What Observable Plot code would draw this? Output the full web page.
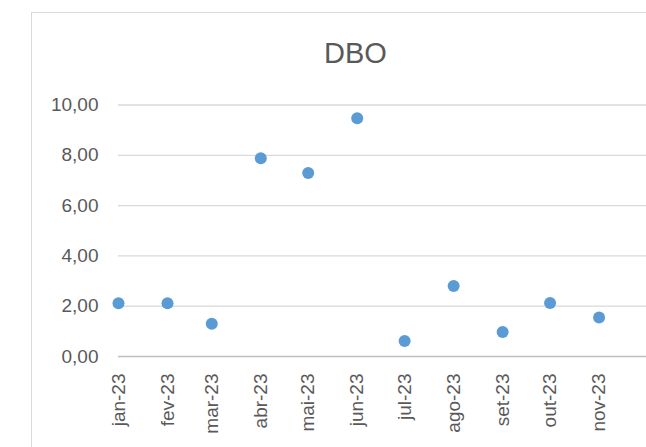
<!DOCTYPE html>
<html>
<head>
<meta charset="utf-8">
<script src="https://cdn.jsdelivr.net/npm/d3@7"></script>
<script src="https://cdn.jsdelivr.net/npm/@observablehq/plot@0.6"></script>
<style>
  html, body { margin: 0; padding: 0; background: #fff; overflow: hidden; width: 646px; height: 447px; }
  #wrap { position: relative; width: 646px; height: 447px; font-family: "Liberation Sans", Arial, sans-serif; }
  #frame { position: absolute; left: 31px; top: 12px; width: 700px; height: 500px; border: 1px solid #d9d9d9; box-sizing: border-box; }
  #title { position: absolute; left: 31px; width: 649px; top: 38px; height: 30px; line-height: 30px; text-align: center; font-size: 29px; color: #595959; }
  #chart { position: absolute; left: 0; top: 80px; }
</style>
</head>
<body>
<div id="wrap">
  <div id="frame"></div>
  <div id="title">DBO</div>
  <div id="chart"></div>
</div>
<script>
const monthLabels = ["jan-23", "fev-23", "mar-23", "abr-23", "mai-23", "jun-23", "jul-23", "ago-23", "set-23", "out-23", "nov-23"];
const monthDates = ["2023-01-01", "2023-02-01", "2023-03-01", "2023-04-01", "2023-05-01", "2023-06-01", "2023-07-01", "2023-08-01", "2023-09-01", "2023-10-01", "2023-11-01"];
const dboValues = [2.12, 2.12, 1.30, 7.88, 7.30, 9.47, 0.62, 2.80, 0.97, 2.13, 1.55];
const yTicks = [0, 2, 4, 6, 8, 10];
const xDomain = ["2023-01-01", "2023-12-01"];

const dates = monthDates.map(d => new Date(d + "T00:00:00Z"));
const data = dates.map((d, i) => ({date: d, value: dboValues[i], label: monthLabels[i]}));
const labelByTime = new Map(dates.map((d, i) => [d.getTime(), monthLabels[i]]));

const chart = Plot.plot({
  width: 646,
  height: 367,
  marginLeft: 118,
  marginRight: 0,
  marginTop: 24.5,
  marginBottom: 91,
  style: {fontFamily: "Liberation Sans, Arial, sans-serif", fontSize: "19px", color: "#595959", background: "transparent", overflow: "visible"},
  x: {type: "utc", domain: xDomain.map(d => new Date(d + "T00:00:00Z"))},
  y: {domain: [0, 10]},
  marks: [
    Plot.ruleY(yTicks.filter(t => t > 0), {stroke: "#d9d9d9", strokeWidth: 1.3, strokeOpacity: 1}),
    Plot.ruleY([0], {stroke: "#bfbfbf", strokeWidth: 1.3, strokeOpacity: 1}),
    Plot.axisY({ticks: yTicks, tickSize: 0, tickPadding: 20, tickFormat: d => d.toFixed(2).replace(".", ","), label: null, fill: "#595959", fontSize: 19}),
    Plot.axisX({ticks: dates, tickSize: 0, tickPadding: 17, tickRotate: -90, tickFormat: d => labelByTime.get(d.getTime()), label: null, fill: "#595959", fontSize: 19}),
    Plot.dot(data, {x: "date", y: "value", r: 6, fill: "#5b9bd5", stroke: null})
  ]
});
document.getElementById("chart").appendChild(chart);
</script>
</body>
</html>
